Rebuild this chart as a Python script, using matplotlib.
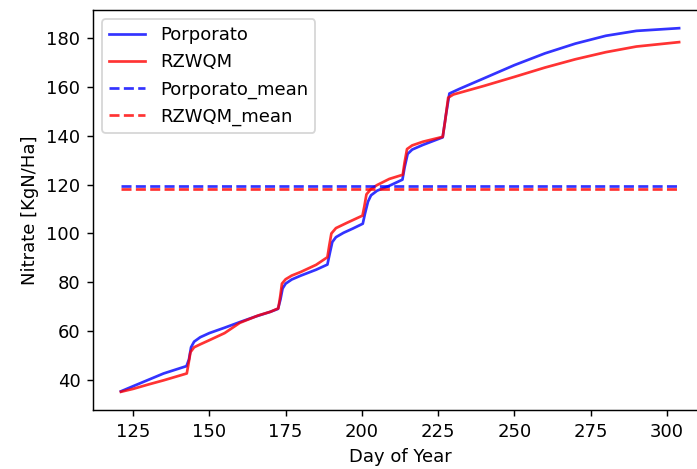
import numpy as np
import matplotlib
matplotlib.use("Agg")
import matplotlib.pyplot as plt

# values
por_day = [121, 125, 130, 135, 142.5, 143.3, 144, 145, 147, 150, 155, 160, 165, 170,
           172.5, 173.3, 174, 175, 177, 180, 185, 188.7, 189.5, 190.3, 191.5, 194, 197,
           200.3, 201, 202, 203, 205, 209, 213.3, 214, 215, 216.5, 220, 226.5, 227.5,
           228.7, 232, 240, 250, 260, 270, 280, 290, 304]
por_no3 = [35.5, 37.6, 40.2, 42.8, 45.8, 48.5, 53.5, 55.8, 57.6, 59.3, 61.5, 63.8, 66.0, 68.0,
           69.2, 73.0, 77.5, 79.5, 81.2, 82.8, 85.2, 87.3, 92.0, 96.5, 98.5, 100.3, 102.0,
           104.0, 108.0, 113.0, 115.6, 117.5, 119.5, 122.0, 127.0, 132.5, 134.3, 136.2, 139.3, 148.0,
           157.2, 159.1, 163.4, 168.8, 173.6, 177.6, 180.8, 182.8, 183.9]

rz_day = [121, 125, 130, 135, 142.6, 143.2, 143.8, 145, 147, 150, 155, 160, 166, 170,
          172.6, 173.2, 173.8, 175, 177, 180, 185, 188.7, 189.3, 190, 191.5, 195, 200.2,
          200.8, 201.5, 203, 205, 209, 213.4, 214, 214.8, 216.5, 220, 226.5, 227.3, 228.3,
          230, 240, 250, 260, 270, 280, 290, 304]
rz_no3 = [35.3, 36.5, 38.3, 40.0, 42.8, 47.0, 51.5, 53.5, 54.7, 56.4, 59.3, 63.5, 66.5, 68.0,
          69.4, 74.0, 79.5, 81.3, 82.8, 84.3, 87.2, 90.3, 95.0, 100.0, 102.2, 104.3, 107.3,
          111.0, 116.0, 118.2, 119.8, 122.3, 124.0, 129.0, 134.5, 136.0, 137.5, 139.5, 146.0, 155.5,
          156.8, 160.3, 164.0, 167.8, 171.2, 174.1, 176.4, 178.2]

por_mean = 119.6
rz_mean = 118.2

dpi = 130
fig = plt.figure(figsize=(697 / dpi, 469 / dpi), dpi=dpi)
# right edge of the axes runs past the picture, as in the cropped original
ax = fig.add_axes([93 / 697, 59 / 469, 614 / 697, 400 / 469])

ax.plot(por_day, por_no3, color='b', alpha=0.8, label='Porporato')
ax.plot(rz_day, rz_no3, color='r', alpha=0.8, label='RZWQM')
ax.plot([por_day[0], por_day[-1]], [por_mean, por_mean], '--', color='b', alpha=0.8,
        label='Porporato_mean')
ax.plot([rz_day[0], rz_day[-1]], [rz_mean, rz_mean], '--', color='r', alpha=0.8,
        label='RZWQM_mean')

ax.set_xlabel('Day of Year')
ax.set_ylabel('Nitrate [KgN/Ha]')
ax.legend(loc='upper left')

fig.savefig('out.png', dpi=dpi)
